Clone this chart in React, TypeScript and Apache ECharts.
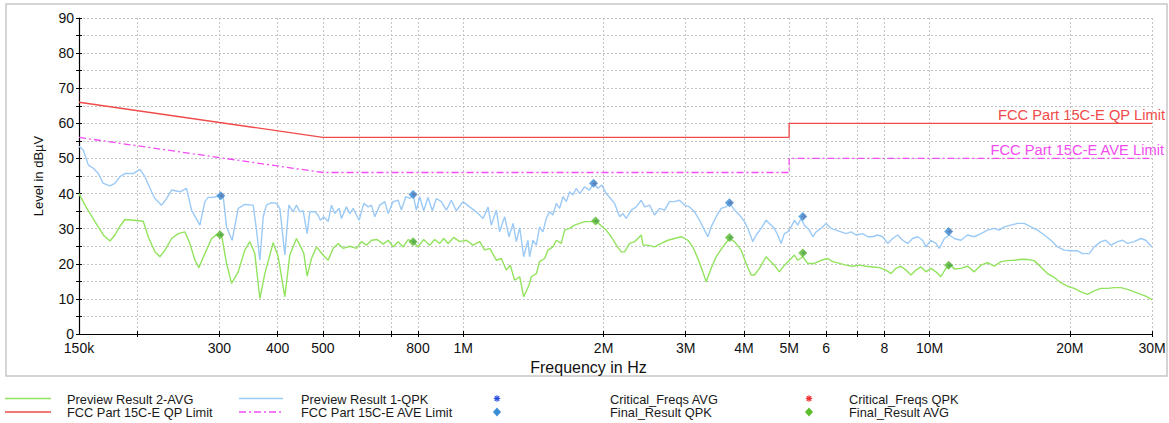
import React, { useEffect, useRef } from 'react';
import * as echarts from 'echarts';

const FONT = '"Liberation Sans", Arial, Helvetica, sans-serif';

// ---- axis definitions ----
const xMin = 150000;
const xMax = 30000000;
const xLabelValues = [150e3, 300e3, 400e3, 500e3, 800e3, 1e6, 2e6, 3e6, 4e6, 5e6, 6e6, 8e6, 10e6, 20e6, 30e6];
const xLabelTexts = ['150k', '300', '400', '500', '800', '1M', '2M', '3M', '4M', '5M', '6', '8', '10M', '20M', '30M'];
const xGridValues = [200e3, 300e3, 400e3, 500e3, 600e3, 700e3, 800e3, 1e6, 2e6, 3e6, 4e6, 5e6, 6e6, 7e6, 8e6, 10e6, 20e6, 30e6];
const yMin = 0;
const yMax = 90;
const yStep = 10;

// ---- limit lines [Hz, dBµV] ----
const qpLimit: [number, number][] = [[150e3, 66], [500e3, 56], [5e6, 56], [5e6, 60], [30e6, 60]];
const aveLimit: [number, number][] = [[150e3, 56], [500e3, 46], [5e6, 46], [5e6, 50], [30e6, 50]];

// ---- Preview Result 1-QPK [Hz, dBµV] ----
const qpkTrace: [number, number][] = [
  [150000, 53.5], [153200, 52.4], [157100, 48.1], [161000, 47.2], [165000, 45.7], [169100, 42.9],
  [174800, 42.2], [179100, 42.9], [183600, 44.8], [188200, 45.7], [196100, 45.7], [202700, 46.9],
  [207700, 44.8], [212900, 41.5], [218200, 38.6], [225500, 36.7], [231200, 38.6], [237000, 41.0],
  [246900, 40.5], [255100, 41.5], [261500, 35.3], [272500, 31.0], [279300, 37.7], [283900, 38.9],
  [291000, 38.9], [298300, 39.3], [305800, 39.1], [310800, 30.5], [319600, 26.7], [329200, 35.8],
  [340200, 36.9], [354500, 36.7], [360400, 29.6], [366400, 21.0], [372500, 33.4], [378600, 36.7],
  [388100, 37.4], [397800, 37.2], [404400, 35.8], [414500, 22.5], [422800, 36.7], [431900, 34.8],
  [439000, 36.7], [446300, 34.8], [453700, 35.1], [462800, 28.6], [468900, 34.8], [480600, 34.8],
  [488500, 33.9], [494100, 32.4], [502400, 33.4], [513300, 32.0], [521800, 36.7], [530400, 34.3],
  [541900, 35.8], [548200, 32.9], [561900, 36.2], [571200, 34.3], [580700, 35.8], [598200, 32.4],
  [612100, 37.2], [625400, 36.2], [635700, 36.7], [646200, 33.4], [662400, 36.7], [678900, 37.7],
  [690200, 34.3], [707400, 37.7], [725100, 38.1], [737100, 35.3], [753000, 39.1], [767900, 38.6],
  [780600, 39.7], [793500, 35.3], [806700, 39.1], [822800, 35.1], [840600, 38.9], [858700, 35.1],
  [875900, 38.6], [897800, 37.7], [920100, 35.3], [943100, 38.1], [966600, 35.1], [999000, 37.7],
  [1032000, 36.2], [1067000, 34.8], [1103000, 32.9], [1130000, 36.2], [1149000, 31.0], [1178000, 35.3],
  [1197000, 29.1], [1227000, 33.4], [1254000, 27.7], [1279000, 31.5], [1300000, 26.3], [1322000, 30.3],
  [1348000, 22.0], [1377000, 26.7], [1388000, 22.0], [1411000, 26.7], [1435000, 25.3], [1458000, 30.5],
  [1482000, 29.1], [1507000, 32.9], [1532000, 34.8], [1557000, 33.9], [1584000, 37.2], [1610000, 35.8],
  [1637000, 39.1], [1664000, 37.7], [1691000, 40.5], [1719000, 39.6], [1748000, 41.5], [1777000, 40.0],
  [1821000, 41.9], [1866000, 41.0], [1903000, 42.9], [1944000, 41.5], [1983000, 42.4], [2026000, 40.0],
  [2070000, 38.6], [2112000, 37.2], [2165000, 33.4], [2201000, 34.3], [2237000, 32.9], [2293000, 35.3],
  [2350000, 36.2], [2409000, 38.1], [2449000, 36.2], [2510000, 36.7], [2573000, 33.9], [2637000, 35.8],
  [2703000, 35.3], [2770000, 37.7], [2839000, 37.7], [2910000, 38.1], [2983000, 36.7], [3057000, 36.2],
  [3134000, 34.8], [3212000, 32.4], [3292000, 29.6], [3347000, 27.7], [3402000, 30.5], [3487000, 33.4],
  [3575000, 35.8], [3664000, 36.2], [3724000, 37.4], [3818000, 35.3], [3913000, 33.9], [4010000, 32.0],
  [4090000, 29.6], [4179000, 26.3], [4248000, 28.2], [4354000, 30.1], [4463000, 32.4], [4536000, 31.5],
  [4649000, 30.1], [4726000, 28.2], [4805000, 25.8], [4885000, 28.6], [4966000, 29.1], [5049000, 30.5],
  [5132000, 32.4], [5217000, 31.0], [5304000, 32.9], [5391000, 31.0], [5526000, 29.6], [5618000, 27.7],
  [5711000, 29.1], [5853000, 30.1], [6000000, 31.5], [6150000, 30.1], [6305000, 29.6], [6462000, 29.1],
  [6623000, 28.6], [6789000, 29.1], [6958000, 28.2], [7191000, 28.6], [7370000, 27.7], [7553000, 27.7],
  [7742000, 28.2], [7937000, 27.7], [8135000, 25.8], [8337000, 27.2], [8544000, 28.2], [8757000, 26.7],
  [8976000, 25.8], [9200000, 27.2], [9429000, 27.7], [9666000, 26.7], [9827000, 24.8], [10070000, 26.7],
  [10320000, 25.8], [10500000, 24.4], [10760000, 27.2], [11030000, 28.2], [11300000, 27.2], [11680000, 26.7],
  [12070000, 28.2], [12470000, 27.7], [12890000, 28.6], [13320000, 29.6], [13770000, 30.1], [14110000, 29.6],
  [14460000, 30.5], [14940000, 31.0], [15450000, 31.5], [15960000, 31.5], [16500000, 30.5], [17050000, 29.6],
  [17620000, 28.2], [18210000, 26.7], [18820000, 24.8], [19450000, 23.9], [20100000, 23.7], [20770000, 23.7],
  [21290000, 22.9], [22000000, 22.9], [22550000, 24.8], [23310000, 26.3], [23890000, 26.7], [24490000, 25.3],
  [25310000, 26.3], [25940000, 26.7], [26590000, 25.8], [27480000, 26.3], [28390000, 27.2], [29090000, 26.7],
  [30000000, 24.8],
];

// ---- Preview Result 2-AVG [Hz, dBµV] ----
const avgTrace: [number, number][] = [
  [150000, 40.0], [154500, 36.7], [162300, 32.0], [169100, 28.2], [174800, 26.5], [179100, 28.2],
  [183600, 30.7], [188200, 32.6], [196100, 32.4], [206000, 32.1], [211200, 27.7], [218200, 23.4],
  [223700, 22.0], [229300, 23.9], [237000, 27.2], [244800, 28.6], [253000, 29.1], [259300, 25.8],
  [265900, 21.0], [271100, 18.9], [279300, 22.9], [288700, 27.2], [295900, 28.3], [303200, 28.2],
  [310800, 20.1], [318600, 14.4], [329200, 17.7], [340200, 23.9], [348700, 26.3], [357400, 22.9],
  [366400, 10.1], [375500, 17.2], [391300, 26.0], [401100, 22.0], [414500, 10.6], [424800, 22.5],
  [439000, 27.2], [450000, 24.4], [455200, 22.9], [462800, 16.5], [472800, 21.5], [484600, 24.8],
  [500700, 22.5], [513300, 21.0], [526200, 24.4], [539300, 25.8], [552700, 24.4], [571200, 25.0],
  [590400, 24.4], [605100, 26.3], [620200, 25.3], [635700, 26.7], [653700, 26.9], [673400, 25.6],
  [690200, 26.7], [707400, 24.8], [725100, 26.3], [743300, 24.8], [761700, 26.9], [780600, 26.3],
  [800000, 24.8], [822800, 26.9], [847500, 25.3], [868700, 26.9], [890400, 25.8], [908100, 27.2],
  [927800, 25.8], [954000, 27.5], [982800, 26.3], [1016000, 26.7], [1050000, 25.3], [1085000, 26.3],
  [1112000, 23.9], [1140000, 24.4], [1178000, 21.0], [1207000, 21.5], [1237000, 18.2], [1262000, 19.6],
  [1289000, 15.3], [1322000, 16.3], [1348000, 10.6], [1384000, 13.9], [1400000, 16.3], [1435000, 17.2],
  [1458000, 20.6], [1495000, 21.5], [1520000, 23.9], [1557000, 24.8], [1584000, 26.7], [1623000, 25.8],
  [1650000, 29.6], [1691000, 30.1], [1733000, 31.0], [1777000, 31.5], [1821000, 32.0], [1881000, 32.0],
  [1922000, 32.2], [1970000, 31.0], [2026000, 29.6], [2077000, 27.7], [2130000, 25.3], [2183000, 23.4],
  [2219000, 23.4], [2274000, 25.8], [2331000, 26.3], [2409000, 28.2], [2429000, 25.3], [2490000, 25.3],
  [2573000, 24.8], [2659000, 25.8], [2748000, 26.7], [2839000, 27.2], [2934000, 27.7], [3032000, 26.7],
  [3108000, 24.8], [3186000, 21.5], [3265000, 17.7], [3320000, 14.9], [3402000, 18.7], [3487000, 22.0],
  [3604000, 24.8], [3724000, 27.2], [3818000, 26.3], [3945000, 23.9], [4043000, 20.1], [4144000, 16.8],
  [4213000, 16.8], [4318000, 18.7], [4463000, 22.0], [4536000, 21.0], [4649000, 19.6], [4765000, 17.7],
  [4885000, 19.6], [5007000, 21.0], [5132000, 22.5], [5217000, 21.0], [5348000, 22.0], [5481000, 20.1],
  [5664000, 20.1], [5853000, 21.0], [6050000, 21.5], [6201000, 20.6], [6409000, 20.1], [6623000, 19.6],
  [6845000, 19.3], [7074000, 19.6], [7310000, 19.3], [7553000, 19.1], [7806000, 18.9], [8067000, 18.2],
  [8268000, 17.2], [8474000, 18.7], [8685000, 19.3], [8901000, 18.2], [9123000, 16.8], [9351000, 18.2],
  [9587000, 19.1], [9827000, 17.7], [10070000, 18.7], [10320000, 17.7], [10580000, 16.3], [10840000, 18.7],
  [11120000, 19.6], [11300000, 18.5], [11680000, 18.7], [12070000, 19.3], [12470000, 17.7], [12890000, 19.6],
  [13320000, 20.3], [13770000, 19.3], [14230000, 20.6], [14700000, 20.9], [15200000, 21.0], [15700000, 21.3],
  [16230000, 21.2], [16770000, 20.9], [17330000, 19.1], [17910000, 17.2], [18510000, 16.1], [19130000, 14.6],
  [19770000, 13.6], [20430000, 13.0], [21120000, 12.0], [21820000, 11.3], [22550000, 12.3], [23310000, 13.0],
  [24090000, 13.0], [24900000, 13.2], [25730000, 13.2], [26590000, 12.7], [27480000, 12.0], [28390000, 11.3],
  [29090000, 10.8], [30000000, 9.8],
];

// ---- final results [Hz, dBµV] ----
const finalQpk: [number, number][] = [
  [302000, 39.4], [780600, 39.7], [1903000, 42.9], [3724000, 37.4], [5348000, 33.5], [10990000, 29.2],
];
const finalAvg: [number, number][] = [
  [300800, 28.3], [780600, 26.3], [1922000, 32.2], [3724000, 27.5], [5348000, 23.1], [10990000, 19.6],
];

const C_AVG = '#92e35e';
const C_QPK = '#9ccaf6';
const C_QP = '#f04a4a';
const C_AVE = '#f24cf2';
const C_CRIT_AVG = '#2b4fe0';
const C_CRIT_QPK = '#f03030';
const C_FIN_QPK = '#3a8ed6';
const C_FIN_AVG = '#5cbd2e';
const GRID_C = '#c4c4c4';

const ASTERISK = 'path://M0,-10L2,-3L7,-7L3,-2L10,0L3,2L7,7L2,3L0,10L-2,3L-7,7L-3,2L-10,0L-3,-2L-7,-7L-2,-3Z';

function fmtX(v: number): string {
  const i = xLabelValues.findIndex((x) => Math.abs(x - v) / x < 1e-6);
  return i >= 0 ? xLabelTexts[i] : '';
}

function legendGraphics(): any[] {
  const items = [
    { name: 'Preview Result 2-AVG', kind: 'line', color: C_AVG, col: 0, row: 0 },
    { name: 'Preview Result 1-QPK', kind: 'line', color: C_QPK, col: 1, row: 0 },
    { name: 'Critical_Freqs AVG', kind: 'star', color: C_CRIT_AVG, col: 2, row: 0 },
    { name: 'Critical_Freqs QPK', kind: 'star', color: C_CRIT_QPK, col: 3, row: 0 },
    { name: 'FCC Part 15C-E QP Limit', kind: 'line', color: C_QP, col: 0, row: 1 },
    { name: 'FCC Part 15C-E AVE Limit', kind: 'dash', color: C_AVE, col: 1, row: 1 },
    { name: 'Final_Result QPK', kind: 'diamond', color: C_FIN_QPK, col: 2, row: 1 },
    { name: 'Final_Result AVG', kind: 'diamond', color: C_FIN_AVG, col: 3, row: 1 },
  ];
  const iconX = [5, 239, 497, 809];
  const iconW = [46, 44, 0, 0];
  const textX = [67, 301, 610, 849];
  const rowY = [398.5, 412];
  const out: any[] = [];
  items.forEach((it) => {
    const y = rowY[it.row];
    const x0 = iconX[it.col];
    if (it.kind === 'line' || it.kind === 'dash') {
      out.push({
        type: 'line',
        shape: { x1: x0, y1: y, x2: x0 + iconW[it.col], y2: y },
        style: { stroke: it.color, lineWidth: 1.5, lineDash: it.kind === 'dash' ? [7, 3, 2, 3] : null },
      });
    } else if (it.kind === 'diamond') {
      out.push({
        type: 'polygon',
        shape: { points: [[x0, y - 4.5], [x0 + 4, y], [x0, y + 4.5], [x0 - 4, y]] },
        style: { fill: it.color },
      });
    } else {
      const r = 3.2;
      const lines = [[0, -r, 0, r], [-r, 0, r, 0], [-r * 0.7, -r * 0.7, r * 0.7, r * 0.7], [-r * 0.7, r * 0.7, r * 0.7, -r * 0.7]];
      lines.forEach((l) => {
        out.push({
          type: 'line',
          shape: { x1: x0 + l[0], y1: y + l[1], x2: x0 + l[2], y2: y + l[3] },
          style: { stroke: it.color, lineWidth: 1.2 },
        });
      });
    }
    out.push({
      type: 'text',
      x: textX[it.col],
      y: y + 0.5,
      style: { text: it.name, fill: '#1a1a1a', font: `12.8px ${FONT}`, textVerticalAlign: 'middle', textAlign: 'left' },
    });
  });
  return out;
}

export default function App() {
  const ref = useRef<HTMLDivElement>(null);
  useEffect(() => {
    const chart = echarts.init(ref.current!, null, { renderer: 'svg' });
    const axisCommon = { type: 'log', logBase: 10, min: xMin, max: xMax };
    const option: any = {
      animation: false,
      backgroundColor: '#ffffff',
      textStyle: { fontFamily: FONT },
      grid: { left: 79, right: 17, top: 18, bottom: 89, containLabel: false },
      xAxis: [
        {
          ...axisCommon,
          position: 'bottom',
          name: 'Frequency in Hz',
          nameLocation: 'middle',
          nameGap: 25,
          nameTextStyle: { fontSize: 16, color: '#111', fontFamily: FONT, padding: [0, 54, 0, 0] },
          axisLine: { show: true, lineStyle: { color: '#000', width: 1.2 } },
          axisTick: { show: true, length: 3, customValues: xGridValues, lineStyle: { color: '#000' } },
          axisLabel: {
            show: true,
            customValues: xLabelValues,
            formatter: (v: number) => fmtX(v),
            fontSize: 14,
            color: '#111',
            fontFamily: FONT,
            margin: 7,
            showMinLabel: true,
            showMaxLabel: true,
          },
          splitLine: { show: true, lineStyle: { color: GRID_C, type: [2, 2], width: 1 } },
          minorTick: { show: false },
        },
        {
          ...axisCommon,
          position: 'bottom',
          axisLine: { show: false },
          axisTick: { show: true, inside: true, length: 3, customValues: xGridValues, lineStyle: { color: '#000' } },
          axisLabel: { show: false },
          splitLine: { show: false },
        },
      ],
      yAxis: [
        {
          type: 'value',
          min: yMin,
          max: yMax,
          interval: yStep,
          name: 'Level in dBµV',
          nameLocation: 'middle',
          nameGap: 34,
          nameTextStyle: { fontSize: 13, color: '#111', fontFamily: FONT },
          axisLine: { show: true, lineStyle: { color: '#000', width: 1.2 } },
          axisTick: { show: true, length: 3, lineStyle: { color: '#000' } },
          minorTick: { show: true, splitNumber: 2, length: 3, lineStyle: { color: '#000' } },
          axisLabel: { fontSize: 14, color: '#111', fontFamily: FONT, margin: 5 },
          splitLine: { show: true, lineStyle: { color: GRID_C, type: [2, 2], width: 1 } },
          minorSplitLine: { show: true, lineStyle: { color: GRID_C, type: [2, 2], width: 1 } },
        },
        {
          type: 'value',
          min: yMin,
          max: yMax,
          interval: yStep,
          position: 'left',
          axisLine: { show: false },
          axisTick: { show: true, inside: true, length: 3, lineStyle: { color: '#000' } },
          minorTick: { show: true, splitNumber: 2, length: 3, lineStyle: { color: '#000' } },
          axisLabel: { show: false },
          splitLine: { show: false },
        },
      ],
      series: [
        {
          name: 'Preview Result 2-AVG', type: 'line', data: avgTrace, showSymbol: false, symbol: 'none',
          lineStyle: { color: C_AVG, width: 1.4 }, itemStyle: { color: C_AVG }, z: 2,
        },
        {
          name: 'Preview Result 1-QPK', type: 'line', data: qpkTrace, showSymbol: false, symbol: 'none',
          lineStyle: { color: C_QPK, width: 1.4 }, itemStyle: { color: C_QPK }, z: 2,
        },
        {
          name: 'FCC Part 15C-E QP Limit', type: 'line', data: qpLimit, showSymbol: false, symbol: 'none',
          lineStyle: { color: C_QP, width: 1.3 }, itemStyle: { color: C_QP }, z: 3,
        },
        {
          name: 'FCC Part 15C-E AVE Limit', type: 'line', data: aveLimit, showSymbol: false, symbol: 'none',
          lineStyle: { color: C_AVE, width: 1.3, type: [7, 3, 2, 3] }, itemStyle: { color: C_AVE }, z: 3,
        },
        {
          name: 'Critical_Freqs AVG', type: 'scatter', data: finalAvg, symbol: ASTERISK, symbolSize: 7,
          symbolOffset: [1, 0], itemStyle: { color: C_CRIT_AVG }, z: 4,
        },
        {
          name: 'Critical_Freqs QPK', type: 'scatter', data: finalQpk, symbol: ASTERISK, symbolSize: 7,
          symbolOffset: [1, 0], itemStyle: { color: C_CRIT_QPK }, z: 4,
        },
        {
          name: 'Final_Result QPK', type: 'scatter', data: finalQpk, symbol: 'diamond', symbolSize: [9, 9],
          itemStyle: { color: C_FIN_QPK }, z: 5,
        },
        {
          name: 'Final_Result AVG', type: 'scatter', data: finalAvg, symbol: 'diamond', symbolSize: [9, 9],
          itemStyle: { color: C_FIN_AVG }, z: 5,
        },
      ],
      graphic: [
        {
          type: 'rect',
          shape: { x: 6, y: 4, width: 1161, height: 372 },
          style: { fill: 'none', stroke: '#c8c8c8', lineWidth: 1.5 },
          silent: true,
          z: -10,
        },
        {
          type: 'text', x: 1165, y: 122,
          style: { text: 'FCC Part 15C-E QP Limit', fill: C_QP, font: `14.7px ${FONT}`, textAlign: 'right', textVerticalAlign: 'bottom' },
        },
        {
          type: 'text', x: 1164, y: 157,
          style: { text: 'FCC Part 15C-E AVE Limit', fill: C_AVE, font: `14.7px ${FONT}`, textAlign: 'right', textVerticalAlign: 'bottom' },
        },
        ...legendGraphics(),
      ],
    };
    chart.setOption(option);
    return () => chart.dispose();
  }, []);
  return (
    <div
      ref={ref}
      style={{ position: 'absolute', left: 0, top: 0, width: 1169, height: 423, background: '#fff' }}
    />
  );
}
